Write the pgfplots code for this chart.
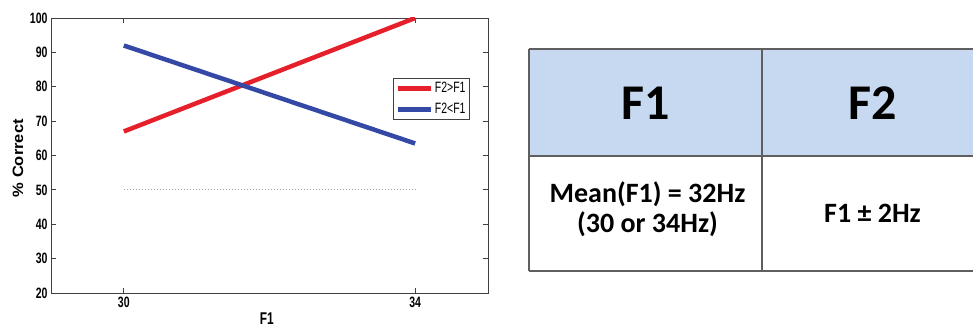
\documentclass[border=0pt]{standalone}
\usepackage{fontspec}
\usepackage{pgfplots}
\pgfplotsset{compat=1.18}
\setmainfont{Liberation Sans}
\newfontfamily\cond[FakeStretch=0.70]{Liberation Sans}
\newfontfamily\ylab[FakeStretch=1.10]{Liberation Sans}
\newfontfamily\carl{Carlito}
\definecolor{redline}{RGB}{230,32,42}
\definecolor{blueline}{RGB}{52,72,165}
\definecolor{hdr}{RGB}{198,217,240}
\definecolor{tblline}{RGB}{95,95,95}
\begin{document}
\begin{tikzpicture}
\useasboundingbox (0pt,0pt) rectangle (973pt,329pt);
\begin{axis}[
  at={(51pt,36pt)}, anchor=south west,
  scale only axis, width=437pt, height=275pt,
  xmin=29, xmax=35, ymin=20, ymax=100,
  xtick={30,34}, ytick={20,30,...,100},
  tick align=inside, major tick length=5pt,
  axis line style={black!75, line width=0.9pt},
  every tick/.style={black!75, line width=0.8pt},
  /pgf/number format/assume math mode=true,
  tick label style={font=\cond\bfseries\fontsize{15}{15}\selectfont},
  xlabel={F1}, ylabel={\% Correct},
  xlabel style={font=\cond\bfseries\fontsize{17}{17}\selectfont, at={(axis description cs:0.494,-0.093)}, anchor=center},
  ylabel style={font=\ylab\bfseries\fontsize{15}{15}\selectfont, at={(axis description cs:-0.0755,0.49)}, anchor=center},
  legend style={at={(0.7826,0.7818)}, anchor=north west, draw=black!75, line width=0.8pt,
    font=\cond\fontsize{15}{15}\selectfont, inner sep=2pt, row sep=5pt,
    legend cell align=left},
  legend image code/.code={\draw[#1, line width=4.5pt] (0pt,0pt) -- (33pt,0pt);},
]
\addplot[redline, line width=4.5pt] coordinates {(30,67) (34,100)};
\addlegendentry{F2>F1}
\addplot[blueline, line width=4.5pt] coordinates {(30,92) (34,63.5)};
\addlegendentry{F2<F1}
\addplot[gray!70, dotted, line width=1pt, forget plot] coordinates {(30,50) (34,50)};
\end{axis}
% table
\fill[hdr] (529pt,173pt) rectangle (973pt,280pt);
\draw[tblline, line width=1.5pt] (529pt,280pt) -- (973pt,280pt);
\draw[tblline, line width=1.5pt] (529pt,173pt) -- (973pt,173pt);
\draw[tblline, line width=1.5pt] (529pt,58pt) -- (973pt,58pt);
\draw[tblline, line width=1.5pt] (529pt,58pt) -- (529pt,280pt);
\draw[tblline, line width=1.5pt] (762pt,58pt) -- (762pt,280pt);
\node[anchor=base, inner sep=0pt, font=\carl\bfseries\fontsize{50}{50}\selectfont] at (645.5pt,209pt) {F1};
\node[anchor=base, inner sep=0pt, font=\carl\bfseries\fontsize{50}{50}\selectfont] at (872.5pt,209pt) {F2};
\node[anchor=base, inner sep=0pt, font=\carl\bfseries\fontsize{28}{28}\selectfont] at (647.5pt,126pt) {Mean(F1) = 32Hz};
\node[anchor=base, inner sep=0pt, font=\carl\bfseries\fontsize{28}{28}\selectfont] at (647.5pt,96pt) {(30 or 34Hz)};
\node[anchor=base, inner sep=0pt, font=\carl\bfseries\fontsize{28}{28}\selectfont] at (872.5pt,106pt) {F1 ± 2Hz};
\end{tikzpicture}
\end{document}
